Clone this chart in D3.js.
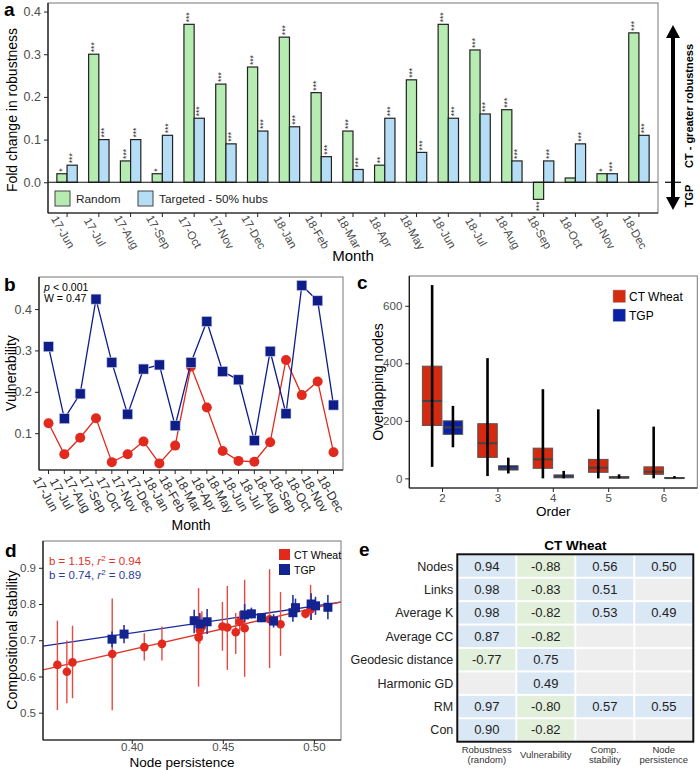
<!DOCTYPE html>
<html><head><meta charset="utf-8">
<script src="https://cdn.jsdelivr.net/npm/d3@7"></script>
<style>body{margin:0;background:#fff}svg{display:block;font-family:"Liberation Sans",Arial,sans-serif}</style>
</head><body><svg id="c" width="700" height="770"></svg>
<script>
// ---------- DATA ----------
const months = ["17-Jun","17-Jul","17-Aug","17-Sep","17-Oct","17-Nov","17-Dec","18-Jan","18-Feb","18-Mar","18-Apr","18-May","18-Jun","18-Jul","18-Aug","18-Sep","18-Oct","18-Nov","18-Dec"];
// panel a
const robRandom   = [0.02,0.30,0.05,0.02,0.37,0.23,0.27,0.34,0.21,0.12,0.04,0.24,0.37,0.31,0.17,-0.04,0.01,0.02,0.35];
const robTargeted = [0.04,0.10,0.10,0.11,0.15,0.09,0.12,0.13,0.06,0.03,0.15,0.07,0.15,0.16,0.05,0.05,0.09,0.02,0.11];
const sigRandom   = ["*","***","***","*","***","***","***","***","***","***","**","***","***","***","***","***","","*","***"];
const sigTargeted = ["***","***","***","***","***","***","***","***","***","***","***","***","***","***","***","***","***","***","***"];
const robTicks = [0,0.1,0.2,0.3,0.4];
// panel b
const vulnTGP = [0.309,0.135,0.195,0.424,0.271,0.146,0.255,0.265,0.118,0.271,0.370,0.249,0.229,0.082,0.298,0.147,0.457,0.420,0.168];
const vulnCT  = [0.124,0.049,0.089,0.136,0.030,0.049,0.080,0.027,0.070,0.261,0.162,0.057,0.033,0.031,0.078,0.277,0.192,0.225,0.054];
const vulnTicks = [0.1,0.2,0.3,0.4];
// panel c  [min, q1, median, q3, max]
const orders = ["2","3","4","5","6"];
const overlapCT  = [[40,184,269,390,672],[8,73,122,190,418],[0,35,66,105,310],[0,21,37,66,240],[0,14,23,40,180]];
const overlapTGP = [[108,153,177,200,252],[17,29,35,44,72],[0,2,7,12,26],[0,1,3,6,14],[0,0,1,3,8]];
const overlapTicks = [0,200,400,600];
// panel d  [x, y, errLow, errHigh]
const stabCT = [[0.3589,0.632,0.507,0.754],[0.3641,0.613,0.526,0.699],[0.3672,0.639,0.540,0.740],[0.3890,0.662,0.507,0.815],
  [0.4066,0.681,0.644,0.719],[0.4163,0.690,0.644,0.738],[0.4364,0.708,0.572,0.844],[0.4371,0.727,0.690,0.770],[0.4382,0.737,0.700,0.780],
  [0.4495,0.738,0.671,0.806],[0.4522,0.735,0.618,0.850],[0.4568,0.722,0.662,0.775],[0.4590,0.751,0.725,0.780],[0.4617,0.733,0.599,0.867],
  [0.4754,0.758,0.623,0.896],[0.4814,0.744,0.657,0.833],[0.4951,0.773,0.760,0.786],[0.4979,0.785,0.757,0.853]];
const stabTGP = [[0.3889,0.703,0.681,0.724],[0.3955,0.717,0.692,0.742],[0.4340,0.754,0.719,0.784],[0.4371,0.745,0.705,0.775],[0.4411,0.751,0.717,0.786],
  [0.4617,0.770,0.750,0.800],[0.4654,0.773,0.760,0.790],[0.4709,0.762,0.750,0.775],[0.4776,0.753,0.735,0.772],[0.4882,0.776,0.751,0.825],
  [0.4896,0.790,0.765,0.815],[0.4982,0.800,0.756,0.830],[0.5006,0.795,0.770,0.820],[0.5074,0.791,0.758,0.825]];
const fitCT  = [[0.351,0.618],[0.5146,0.806]];
const fitTGP = [[0.351,0.684],[0.5146,0.805]];
const stabYTicks = [0.5,0.6,0.7,0.8,0.9];
const persXTicks = [0.40,0.45,0.50];
// panel e
const tableRows = ["Nodes","Links","Average K","Average CC","Geodesic distance","Harmonic GD","RM","Con"];
const tableCols = [["Robustness","(random)"],["Vulnerability"],["Comp.","stability"],["Node","persistence"]];
const colRobustness   = [0.94,0.98,0.98,0.87,-0.77,null,0.97,0.90];
const colVulnerability= [-0.88,-0.83,-0.82,-0.82,0.75,0.49,-0.80,-0.82];
const colCompStab     = [0.56,0.51,0.53,null,null,null,0.57,null];
const colNodePers     = [0.50,null,0.49,null,null,null,0.55,null];

// ---------- STYLE ----------
const GREEN="#b6ecb1", LBLUE="#b5ddf5";
const RED="#e2291d", NAVY="#0e1d88";
const TXT="#4d4d4d";
const svg = d3.select("#c");

function frame(g, P){
  g.append("rect").attr("x",P.l).attr("y",P.t).attr("width",P.r-P.l).attr("height",P.b-P.t)
   .attr("fill","none").attr("stroke","#777").attr("stroke-width",1);
  g.append("line").attr("x1",P.l).attr("x2",P.l).attr("y1",P.t).attr("y2",P.b).attr("stroke","#111").attr("stroke-width",1.2);
  g.append("line").attr("x1",P.l).attr("x2",P.r).attr("y1",P.b).attr("y2",P.b).attr("stroke","#111").attr("stroke-width",1.2);
}
function yAxis(g, P, y, ticks, fmt, fs){
  const ax = g.append("g").attr("transform",`translate(${P.l},0)`)
    .call(d3.axisLeft(y).tickValues(ticks).tickFormat(fmt).tickSize(4).tickPadding(3));
  ax.select(".domain").remove();
  ax.selectAll("line").attr("stroke","#222");
  ax.selectAll("text").attr("fill",TXT).style("font-size",fs+"px").style("font-family","Liberation Sans, Arial, sans-serif");
}
function label(g, x, y, t){ g.append("text").attr("x",x).attr("y",y).text(t).style("font-weight","bold").style("font-size","19px"); }

// ---------- PANEL A ----------
{
  const P={l:48,r:658,t:3,b:213};
  const g=svg.append("g");
  const x=d3.scaleBand().domain(months).range([P.l,P.r]).paddingInner(0).paddingOuter(0.1);
  const y=d3.scaleLinear().domain([-0.072,0.42]).range([P.b,P.t]);
  const bw=10.2, cx=m=>x(m)+x.bandwidth()/2;
  const bars=months.flatMap((m,i)=>[{m,v:robRandom[i],s:sigRandom[i],k:0},{m,v:robTargeted[i],s:sigTargeted[i],k:1}]);
  g.selectAll("rect.bar").data(bars).join("rect").attr("class","bar")
    .attr("x",d=>cx(d.m)-bw+d.k*bw).attr("y",d=>y(Math.max(0,d.v)))
    .attr("width",bw).attr("height",d=>Math.abs(y(d.v)-y(0)))
    .attr("fill",d=>d.k?LBLUE:GREEN).attr("stroke","#222").attr("stroke-width",1.2);
  g.selectAll("text.sig").data(bars).join("text").attr("class","sig")
    .attr("transform",d=>`translate(${cx(d.m)-bw/2+d.k*bw+3.2},${d.v>=0?y(d.v)-2:y(d.v)+2}) rotate(-90)`)
    .attr("text-anchor",d=>d.v>=0?"start":"end").style("font-size","8.5px").attr("fill","#333").text(d=>d.s);
  g.append("line").attr("x1",P.l).attr("x2",P.r).attr("y1",y(0)).attr("y2",y(0)).attr("stroke","#111").attr("stroke-width",1.2);
  frame(g,P);
  yAxis(g,P,y,robTicks,d3.format(".1f"),12.5);
  g.selectAll("line.xt").data(months).join("line").attr("class","xt").attr("x1",cx).attr("x2",cx).attr("y1",P.b).attr("y2",P.b+4).attr("stroke","#222");
  g.selectAll("text.xl").data(months).join("text").attr("class","xl")
    .attr("transform",m=>`translate(${cx(m)-4},232) rotate(60)`).attr("text-anchor","middle").attr("dominant-baseline","central")
    .style("font-size","11.5px").attr("fill",TXT).text(m=>m);
  // legend
  const lg=[["Random",GREEN,55,76],["Targeted - 50% hubs",LBLUE,138,159]];
  lg.forEach(([t,c,kx,tx])=>{
    g.append("rect").attr("x",kx).attr("y",191).attr("width",15).attr("height",15).attr("fill",c).attr("stroke","#444");
    g.append("text").attr("x",tx).attr("y",203).text(t).style("font-size","11.8px").attr("fill","#222");
  });
  g.append("text").attr("transform",`translate(17,110) rotate(-90)`).attr("text-anchor","middle").style("font-size","14px").text("Fold change in robustness");
  g.append("text").attr("x",(P.l+P.r)/2).attr("y",261).attr("text-anchor","middle").style("font-size","15px").text("Month");
  // arrow annotation
  const ax=673;
  g.append("line").attr("x1",ax).attr("x2",ax).attr("y1",34).attr("y2",200).attr("stroke","#000").attr("stroke-width",4);
  g.append("path").attr("d",`M${ax},25L${ax-7},38L${ax+7},38Z`).attr("fill","#000");
  g.append("path").attr("d",`M${ax},210L${ax-7},197L${ax+7},197Z`).attr("fill","#000");
  g.append("line").attr("x1",ax-8).attr("x2",ax+8).attr("y1",y(0)).attr("y2",y(0)).attr("stroke","#000").attr("stroke-width",1.2);
  g.append("text").attr("transform",`translate(693,106) rotate(-90)`).attr("text-anchor","middle").style("font-size","11px").style("font-weight","bold").text("CT - greater robustness");
  g.append("text").attr("transform",`translate(693,196) rotate(-90)`).attr("text-anchor","middle").style("font-size","11px").style("font-weight","bold").text("TGP");
  label(g,4,16,"a");
}

// ---------- PANEL B ----------
{
  const P={l:39,r:343,t:277,b:470};
  const g=svg.append("g");
  const x=d3.scaleBand().domain(months).range([P.l,P.r]).paddingInner(0).paddingOuter(0.1);
  const y=d3.scaleLinear().domain([0.011,0.4775]).range([P.b,P.t]);
  const cx=m=>x(m)+x.bandwidth()/2;
  const line=d3.line().x((d,i)=>cx(months[i])).y(d=>y(d));
  g.append("path").datum(vulnCT).attr("d",line).attr("fill","none").attr("stroke",RED).attr("stroke-width",1.3);
  g.selectAll("circle.ct").data(vulnCT).join("circle").attr("class","ct").attr("cx",(d,i)=>cx(months[i])).attr("cy",d=>y(d)).attr("r",5).attr("fill",RED);
  g.append("path").datum(vulnTGP).attr("d",line).attr("fill","none").attr("stroke",NAVY).attr("stroke-width",1.3);
  g.selectAll("rect.tg").data(vulnTGP).join("rect").attr("class","tg").attr("x",(d,i)=>cx(months[i])-5).attr("y",d=>y(d)-5).attr("width",10).attr("height",10).attr("fill",NAVY).attr("stroke","#c8cde6").attr("stroke-width",0.6);
  frame(g,P);
  yAxis(g,P,y,vulnTicks,d3.format(".1f"),12.5);
  g.selectAll("line.xt").data(months).join("line").attr("class","xt").attr("x1",cx).attr("x2",cx).attr("y1",P.b).attr("y2",P.b+4).attr("stroke","#222");
  g.selectAll("text.xl").data(months).join("text").attr("class","xl")
    .attr("transform",m=>`translate(${cx(m)-3},494) rotate(60)`).attr("text-anchor","middle").attr("dominant-baseline","central")
    .style("font-size","12.5px").attr("fill","#333").text(m=>m);
  g.append("text").attr("x",(P.l+P.r)/2).attr("y",530).attr("text-anchor","middle").style("font-size","14px").text("Month");
  g.append("text").attr("transform",`translate(16,373) rotate(-90)`).attr("text-anchor","middle").style("font-size","14px").text("Vulnerability");
  g.append("text").attr("x",44).attr("y",291).style("font-size","10.5px").style("font-style","italic").text("p");
  g.append("text").attr("x",53).attr("y",291).style("font-size","10.5px").text("< 0.001");
  g.append("text").attr("x",44).attr("y",301.5).style("font-size","10.5px").text("W = 0.47");
  label(g,4,291,"b");
}

// ---------- PANEL C ----------
{
  const P={l:409.3,r:697.3,t:276,b:488};
  const g=svg.append("g");
  const x=d3.scaleBand().domain(orders).range([P.l,P.r]).paddingInner(0).paddingOuter(0.1);
  const y=d3.scaleLinear().domain([-33.5,703.5]).range([P.b,P.t]);
  const bw=19.5, off=10.4;
  const boxes=orders.flatMap((o,i)=>[{o,s:overlapCT[i],c:"#d42a10",dx:-off},{o,s:overlapTGP[i],c:"#0b22a7",dx:off}]);
  const bx=d=>x(d.o)+x.bandwidth()/2+d.dx;
  g.selectAll("rect.box").data(boxes).join("rect").attr("class","box")
    .attr("x",d=>bx(d)-bw/2).attr("y",d=>y(d.s[3])).attr("width",bw).attr("height",d=>y(d.s[1])-y(d.s[3]))
    .attr("fill",d=>d.c).attr("stroke","#555").attr("stroke-width",1);
  g.selectAll("line.med").data(boxes).join("line").attr("class","med")
    .attr("x1",d=>bx(d)-bw/2).attr("x2",d=>bx(d)+bw/2).attr("y1",d=>y(d.s[2])).attr("y2",d=>y(d.s[2])).attr("stroke","#444").attr("stroke-width",2);
  g.selectAll("line.pts").data(boxes).join("line").attr("class","pts")
    .attr("x1",bx).attr("x2",bx).attr("y1",d=>y(d.s[0])).attr("y2",d=>y(d.s[4])).attr("stroke","#000").attr("stroke-width",2.6);
  frame(g,P);
  yAxis(g,P,y,overlapTicks,d3.format("d"),11.5);
  const cxo=o=>x(o)+x.bandwidth()/2;
  g.selectAll("line.xt").data(orders).join("line").attr("class","xt").attr("x1",cxo).attr("x2",cxo).attr("y1",P.b).attr("y2",P.b+4).attr("stroke","#222");
  g.selectAll("text.xl").data(orders).join("text").attr("class","xl").attr("x",cxo).attr("y",502).attr("text-anchor","middle").style("font-size","11.5px").attr("fill",TXT).text(o=>o);
  g.append("text").attr("x",(P.l+P.r)/2).attr("y",516).attr("text-anchor","middle").style("font-size","13.5px").text("Order");
  g.append("text").attr("transform",`translate(383,382) rotate(-90)`).attr("text-anchor","middle").style("font-size","14px").text("Overlapping nodes");
  [["CT Wheat","#d42a10",290],["TGP","#0b22a7",309]].forEach(([t,c,ky])=>{
    g.append("rect").attr("x",613).attr("y",ky).attr("width",12.5).attr("height",12.5).attr("fill",c).attr("stroke","#aaa").attr("stroke-width",0.5);
    g.append("text").attr("x",629).attr("y",ky+10.5).style("font-size","12px").text(t);
  });
  label(g,357,289,"c");
}

// ---------- PANEL D ----------
{
  const P={l:43,r:341,t:541,b:740};
  const g=svg.append("g");
  const x=d3.scaleLinear().domain([0.351,0.5146]).range([P.l,P.r]);
  const y=d3.scaleLinear().domain([0.4246,0.974]).range([P.b,P.t]);
  const ln=d3.line().x(d=>x(d[0])).y(d=>y(d[1]));
  g.append("path").datum(fitTGP).attr("d",ln).attr("stroke","#1b2a9a").attr("stroke-width",1.3).attr("fill","none");
  g.append("path").datum(fitCT).attr("d",ln).attr("stroke","#e0372c").attr("stroke-width",1.3).attr("fill","none");
  g.selectAll("line.ect").data(stabCT).join("line").attr("class","ect").attr("x1",d=>x(d[0])).attr("x2",d=>x(d[0])).attr("y1",d=>y(d[2])).attr("y2",d=>y(d[3])).attr("stroke","#e64a40").attr("stroke-width",1.4);
  g.selectAll("line.etg").data(stabTGP).join("line").attr("class","etg").attr("x1",d=>x(d[0])).attr("x2",d=>x(d[0])).attr("y1",d=>y(d[2])).attr("y2",d=>y(d[3])).attr("stroke","#2535a0").attr("stroke-width",1.6);
  g.selectAll("circle.ct").data(stabCT).join("circle").attr("class","ct").attr("cx",d=>x(d[0])).attr("cy",d=>y(d[1])).attr("r",4.3).attr("fill",RED);
  g.selectAll("rect.tg").data(stabTGP).join("rect").attr("class","tg").attr("x",d=>x(d[0])-4.5).attr("y",d=>y(d[1])-4.5).attr("width",9).attr("height",9).attr("fill","#13238f");
  frame(g,P);
  yAxis(g,P,y,stabYTicks,d3.format(".1f"),11.5);
  g.selectAll("line.xt").data(persXTicks).join("line").attr("class","xt").attr("x1",d=>x(d)).attr("x2",d=>x(d)).attr("y1",P.b).attr("y2",P.b+4).attr("stroke","#222");
  g.selectAll("text.xl").data(persXTicks).join("text").attr("class","xl").attr("x",d=>x(d)).attr("y",751).attr("text-anchor","middle").style("font-size","11.5px").attr("fill",TXT).text(d3.format(".2f"));
  g.append("text").attr("x",(P.l+P.r)/2-10).attr("y",767).attr("text-anchor","middle").style("font-size","13.5px").text("Node persistence");
  g.append("text").attr("transform",`translate(17,640) rotate(-90)`).attr("text-anchor","middle").style("font-size","14px").text("Compositional stability");
  const t1=g.append("text").attr("x",49).attr("y",565).style("font-size","11.5px").attr("fill","#e0302a");
  t1.append("tspan").text("b = 1.15, ");t1.append("tspan").style("font-style","italic").text("r");t1.append("tspan").attr("dy",-4.5).style("font-size","8px").text("2");t1.append("tspan").attr("dy",4.5).text(" = 0.94");
  const t2=g.append("text").attr("x",49).attr("y",579).style("font-size","11.5px").attr("fill","#2b3a9a");
  t2.append("tspan").text("b = 0.74, ");t2.append("tspan").style("font-style","italic").text("r");t2.append("tspan").attr("dy",-4.5).style("font-size","8px").text("2");t2.append("tspan").attr("dy",4.5).text(" = 0.89");
  [["CT Wheat",RED,549],["TGP","#13238f",564]].forEach(([t,c,ky])=>{
    g.append("rect").attr("x",279).attr("y",ky).attr("width",11).attr("height",11).attr("fill",c);
    g.append("text").attr("x",294).attr("y",ky+9.5).style("font-size","10.5px").text(t);
  });
  label(g,5,557,"d");
}

// ---------- PANEL E ----------
{
  const g=svg.append("g");
  const T={l:457.3,r:693.3,t:554.3,b:741.7};
  const cols=[colRobustness,colVulnerability,colCompStab,colNodePers];
  const xc=d3.scaleBand().domain(d3.range(4)).range([T.l,T.r]);
  const yr=d3.scaleBand().domain(tableRows).range([T.t,T.b]);
  const cells=tableRows.flatMap((r,i)=>cols.map((c,j)=>({r,j,v:c[i]})));
  g.selectAll("rect.cell").data(cells).join("rect").attr("class","cell")
    .attr("x",d=>xc(d.j)+1).attr("y",d=>yr(d.r)+1).attr("width",xc.bandwidth()-2).attr("height",yr.bandwidth()-2)
    .attr("fill",d=>d.v==null?"#eeeeee":(d.v>0?"#dae7f4":"#e2efdb"));
  g.selectAll("text.cv").data(cells.filter(d=>d.v!=null)).join("text").attr("class","cv")
    .attr("x",d=>xc(d.j)+xc.bandwidth()/2).attr("y",d=>yr(d.r)+yr.bandwidth()/2+4.5).attr("text-anchor","middle")
    .style("font-size","13px").attr("fill","#222").text(d=>d3.format(".2f")(d.v).replace("−","-"));
  g.append("rect").attr("x",T.l).attr("y",T.t).attr("width",T.r-T.l).attr("height",T.b-T.t).attr("fill","none").attr("stroke","#111").attr("stroke-width",2);
  g.selectAll("text.rl").data(tableRows).join("text").attr("class","rl").attr("x",T.l-4).attr("y",r=>yr(r)+yr.bandwidth()/2+4.5)
    .attr("text-anchor","end").style("font-size","12.5px").attr("fill","#222").text(r=>r);
  tableCols.forEach((lines,j)=>{
    const t=g.append("text").attr("text-anchor","middle").style("font-size","9.5px").attr("fill","#333");
    lines.forEach((s,k)=>t.append("tspan").attr("x",xc(j)+xc.bandwidth()/2).attr("y",lines.length===1?758:753+k*10).text(s));
  });
  g.append("text").attr("x",(T.l+T.r)/2).attr("y",550).attr("text-anchor","middle").style("font-size","13.5px").style("font-weight","bold").text("CT Wheat");
  label(g,359,556,"e");
}
</script></body></html>
